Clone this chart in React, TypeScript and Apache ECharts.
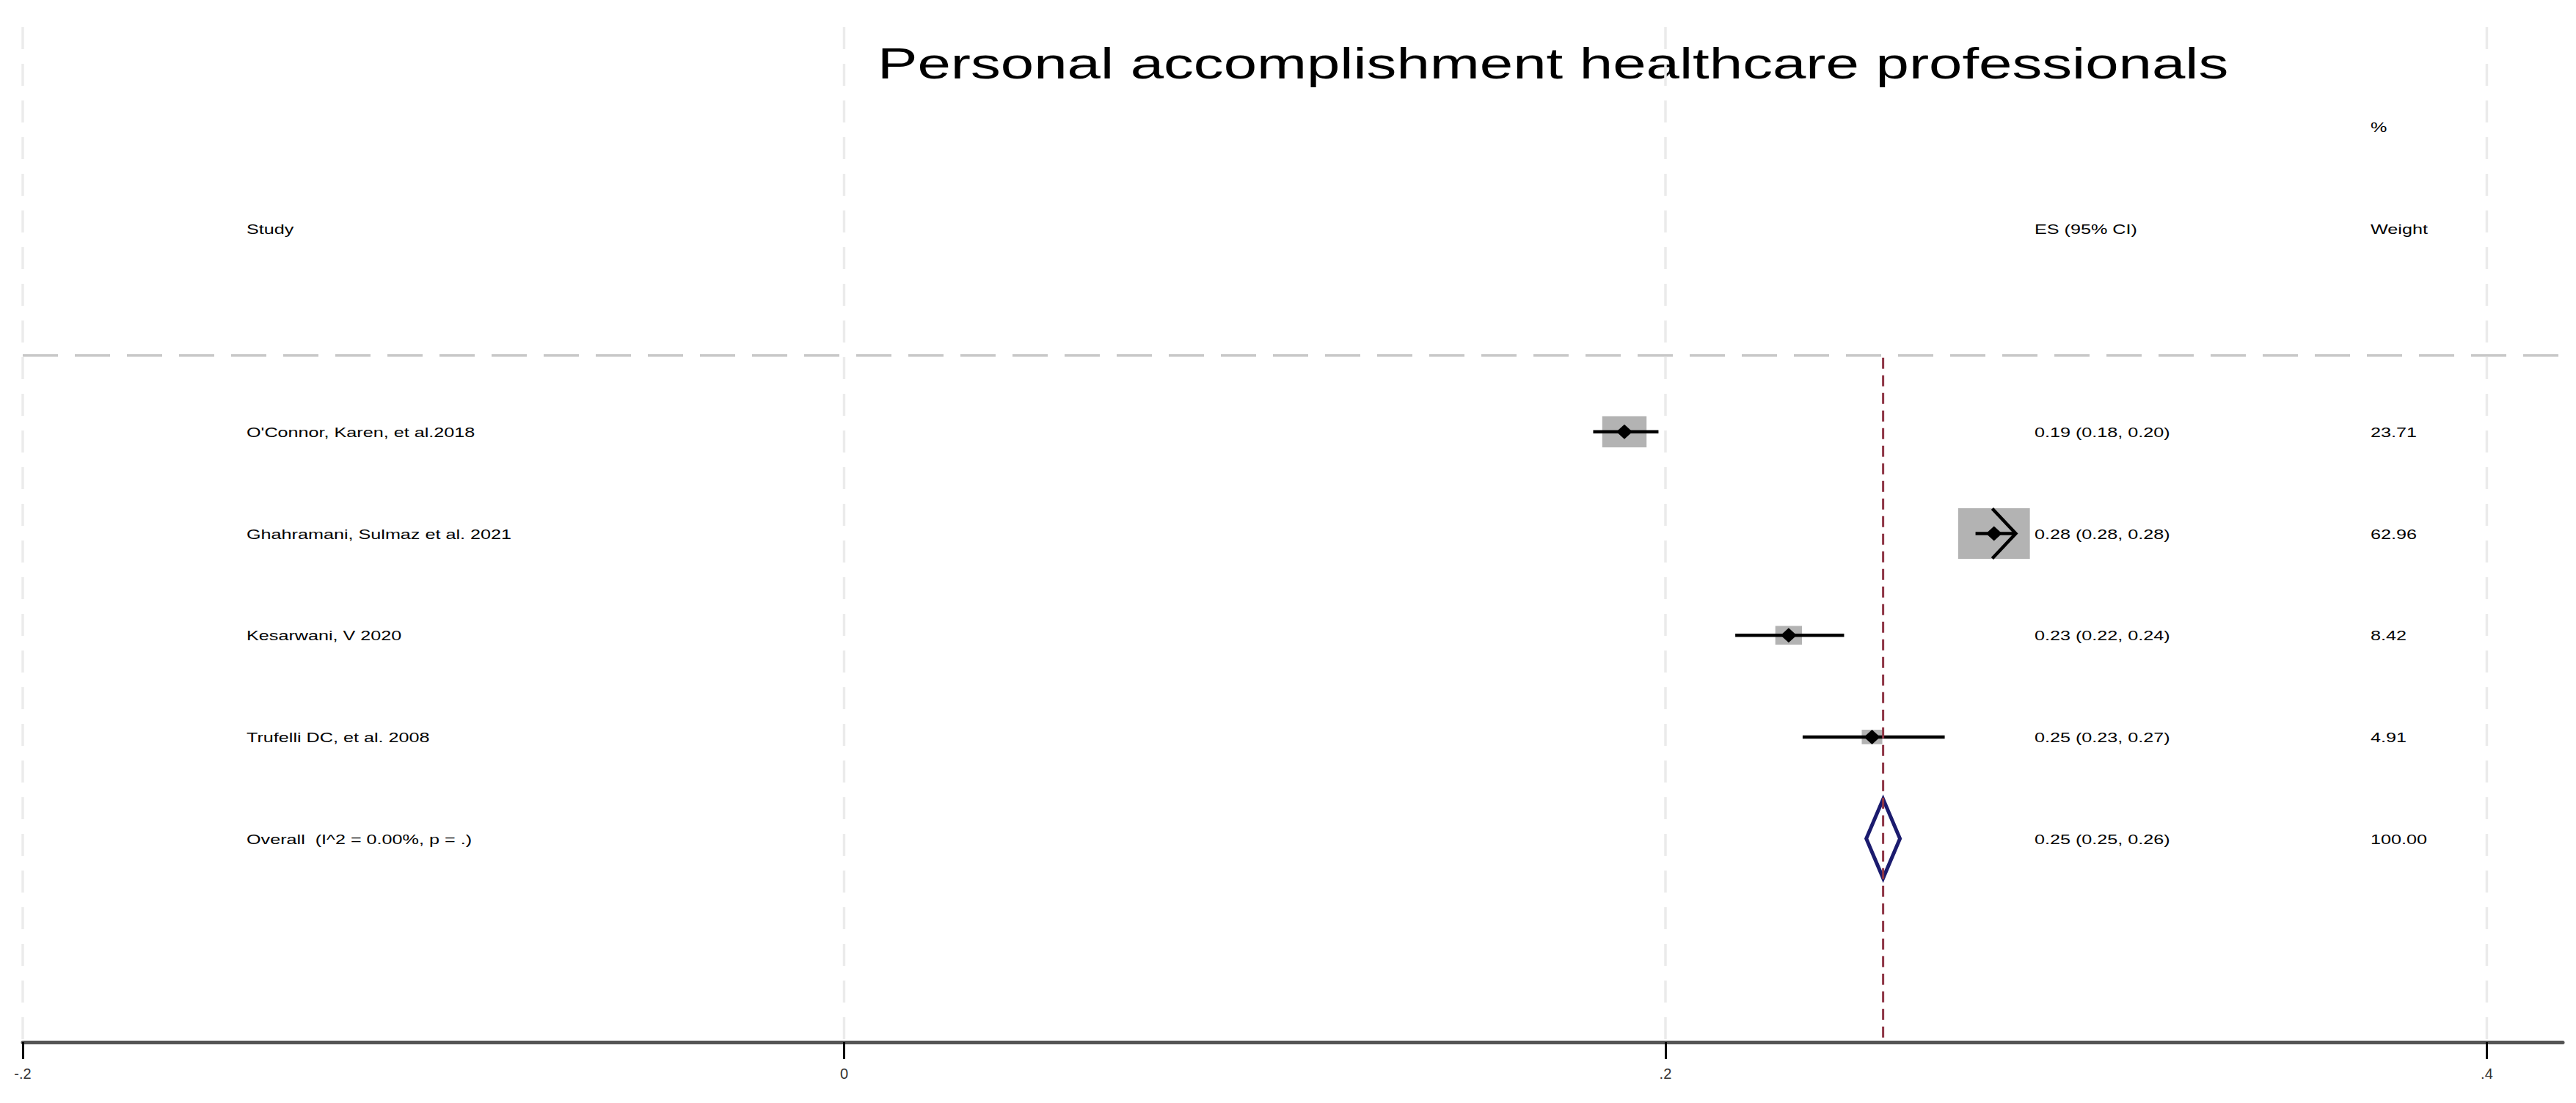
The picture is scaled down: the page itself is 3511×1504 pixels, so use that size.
import React, { useEffect, useRef } from "react";
import * as echarts from "echarts";

// ---------------- data ----------------
const titleText = "Personal accomplishment healthcare professionals";
const studyNames = [
  "O'Connor, Karen, et al.2018",
  "Ghahramani, Sulmaz et al. 2021",
  "Kesarwani, V 2020",
  "Trufelli DC, et al. 2008",
];
const effectSizes = [0.19, 0.28, 0.23, 0.2503];
const ciLower = [0.1824, 0.2755, 0.217, 0.2334];
const ciUpper = [0.1983, 0.2853, 0.2435, 0.268];
const weights = [23.71, 62.96, 8.42, 4.91];
const truncatedUpper = [false, true, false, false];
const esLabels = [
  "0.19 (0.18, 0.20)",
  "0.28 (0.28, 0.28)",
  "0.23 (0.22, 0.24)",
  "0.25 (0.23, 0.27)",
];
const overallLabel = "Overall  (I^2 = 0.00%, p = .)";
const overallEs = 0.253;
const overallLower = 0.2489;
const overallUpper = 0.2571;
const overallEsLabel = "0.25 (0.25, 0.26)";
const overallWeight = 100.0;
const xTicks = [-0.2, 0, 0.2, 0.4];
const headerStudy = "Study";
const headerEs = "ES (95% CI)";
const headerPct = "%";
const headerWeight = "Weight";

// ---------------- layout ----------------
const FONT = '"Liberation Sans", Arial, Helvetica, sans-serif';
const COL_X = [336, 2773, 3231];
const TEXT_SCALE = 1.4;
const ROW_PCT = 1;
const ROW_HEADER = 2;
const ROW_DIVIDER = 3.25;
const ROW_FIRST = 4;
const ROW_OVERALL = ROW_FIRST + studyNames.length;

type TextItem = { col: number; row: number; text: string };
const textItems: TextItem[] = [
  { col: 0, row: ROW_HEADER, text: headerStudy },
  { col: 1, row: ROW_HEADER, text: headerEs },
  { col: 2, row: ROW_PCT, text: headerPct },
  { col: 2, row: ROW_HEADER, text: headerWeight },
];
studyNames.forEach((n, i) => {
  textItems.push({ col: 0, row: ROW_FIRST + i, text: n });
  textItems.push({ col: 1, row: ROW_FIRST + i, text: esLabels[i] });
  textItems.push({ col: 2, row: ROW_FIRST + i, text: weights[i].toFixed(2) });
});
textItems.push({ col: 0, row: ROW_OVERALL, text: overallLabel });
textItems.push({ col: 1, row: ROW_OVERALL, text: overallEsLabel });
textItems.push({ col: 2, row: ROW_OVERALL, text: overallWeight.toFixed(2) });

function buildOption(): any {
  const studyData = studyNames.map((_, i) => [
    effectSizes[i],
    ciLower[i],
    ciUpper[i],
    weights[i],
    ROW_FIRST + i,
    truncatedUpper[i] ? 1 : 0,
  ]);

  return {
    animation: false,
    backgroundColor: "#ffffff",
    grid: { left: 31, right: 18, top: 34, bottom: 83, containLabel: false },
    xAxis: {
      type: "value",
      min: -0.2,
      max: 0.4185,
      splitLine: { show: false },
      axisLine: { show: true, onZero: false, lineStyle: { color: "#555555", width: 5 } },
      axisTick: {
        show: true,
        customValues: xTicks,
        length: 23,
        lineStyle: { color: "#000000", width: 3 },
      },
      axisLabel: {
        show: true,
        customValues: xTicks,
        margin: 33,
        fontSize: 20,
        fontFamily: FONT,
        color: "#333333",
        formatter: (v: number) => {
          if (Math.abs(v) < 1e-9) return "0";
          const s = String(Math.round(v * 100) / 100);
          return s.replace("0.", ".");
        },
      },
    },
    yAxis: { type: "value", min: 0, max: 10, inverse: true, show: false },
    graphic: [
      {
        type: "text",
        x: 1196,
        y: 86,
        scaleX: 1.36,
        style: {
          text: titleText,
          font: `60px ${FONT}`,
          fill: "#000000",
          align: "left",
          verticalAlign: "middle",
        },
      },
    ],
    series: [
      // vertical light grid lines
      {
        type: "custom",
        name: "grid",
        z: 1,
        silent: true,
        data: xTicks.map((v) => [v]),
        renderItem: (params: any, api: any) => {
          const v = api.value(0);
          const top = api.coord([v, 0]);
          const bot = api.coord([v, 10]);
          return {
            type: "line",
            shape: { x1: top[0], y1: top[1] + 3, x2: bot[0], y2: bot[1] },
            style: { stroke: "#ebebeb", lineWidth: 3.5, lineDash: [30, 20] },
          };
        },
      },
      // horizontal divider
      {
        type: "custom",
        name: "divider",
        z: 2,
        silent: true,
        data: [[ROW_DIVIDER]],
        renderItem: (params: any, api: any) => {
          const cs = params.coordSys;
          const y = api.coord([0, api.value(0)])[1];
          return {
            type: "line",
            shape: { x1: cs.x, y1: y, x2: cs.x + cs.width, y2: y },
            style: { stroke: "#c8c8c8", lineWidth: 3.5, lineDash: [48, 23] },
          };
        },
      },
      // study markers
      {
        type: "custom",
        name: "studies",
        z: 3,
        silent: true,
        data: studyData,
        renderItem: (params: any, api: any) => {
          const es = api.value(0);
          const lo = api.value(1);
          const hi = api.value(2);
          const w = api.value(3);
          const row = api.value(4);
          const arrow = api.value(5);
          const [cx, cy] = api.coord([es, row]);
          const xl = api.coord([lo, row])[0];
          const xh = api.coord([hi, row])[0];
          const bw = 12.2 * Math.sqrt(w) + 1;
          const bh = bw / 1.42;
          const children: any[] = [
            {
              type: "rect",
              shape: { x: cx - bw / 2, y: cy - bh / 2, width: bw, height: bh },
              style: { fill: "#b3b3b3" },
            },
            {
              type: "line",
              shape: { x1: xl, y1: cy, x2: xh, y2: cy },
              style: { stroke: "#000000", lineWidth: 4.5 },
            },
            {
              type: "polygon",
              shape: {
                points: [
                  [cx - 11, cy],
                  [cx, cy - 10],
                  [cx + 11, cy],
                  [cx, cy + 10],
                ],
              },
              style: { fill: "#000000" },
            },
          ];
          if (arrow) {
            children.push({
              type: "polyline",
              shape: {
                points: [
                  [xh - 32, cy - 34],
                  [xh, cy],
                  [xh - 32, cy + 34],
                ],
              },
              style: { stroke: "#000000", lineWidth: 4.5, fill: null },
            });
          }
          return { type: "group", children };
        },
      },
      // overall diamond
      {
        type: "custom",
        name: "overall",
        z: 4,
        silent: true,
        data: [[overallEs, overallLower, overallUpper, ROW_OVERALL]],
        renderItem: (params: any, api: any) => {
          const es = api.value(0);
          const lo = api.value(1);
          const hi = api.value(2);
          const row = api.value(3);
          const [cx, cy] = api.coord([es, row]);
          const xl = api.coord([lo, row])[0];
          const xh = api.coord([hi, row])[0];
          const hh = 54;
          return {
            type: "polygon",
            shape: {
              points: [
                [xl, cy],
                [cx, cy - hh],
                [xh, cy],
                [cx, cy + hh],
              ],
            },
            style: { stroke: "#1b1b6e", lineWidth: 5, fill: null, lineJoin: "miter" },
          };
        },
      },
      // overall effect reference line
      {
        type: "custom",
        name: "overallLine",
        z: 5,
        silent: true,
        data: [[overallEs]],
        renderItem: (params: any, api: any) => {
          const v = api.value(0);
          const top = api.coord([v, ROW_DIVIDER]);
          const bot = api.coord([v, 10]);
          return {
            type: "line",
            shape: { x1: top[0], y1: top[1] + 3, x2: bot[0], y2: bot[1] },
            style: { stroke: "#8e3545", lineWidth: 3, lineDash: [15, 9] },
          };
        },
      },
      // table texts
      {
        type: "custom",
        name: "table",
        z: 6,
        silent: true,
        data: textItems.map((t) => [t.col, t.row]),
        renderItem: (params: any, api: any) => {
          const item = textItems[params.dataIndex];
          const y = api.coord([0, item.row])[1];
          return {
            type: "text",
            x: COL_X[item.col],
            y: y + 1,
            scaleX: TEXT_SCALE,
            style: {
              text: item.text,
              font: `18px ${FONT}`,
              fill: "#000000",
              align: "left",
              verticalAlign: "middle",
            },
          };
        },
      },
    ],
  };
}

export default function App() {
  const ref = useRef<HTMLDivElement>(null);
  useEffect(() => {
    if (!ref.current) return;
    const chart = echarts.init(ref.current, undefined, { renderer: "svg" });
    chart.setOption(buildOption());
    return () => {
      chart.dispose();
    };
  }, []);
  return (
    <div
      ref={ref}
      style={{
        position: "fixed",
        left: 0,
        top: 0,
        width: 3511,
        height: 1504,
        background: "#ffffff",
      }}
    />
  );
}
